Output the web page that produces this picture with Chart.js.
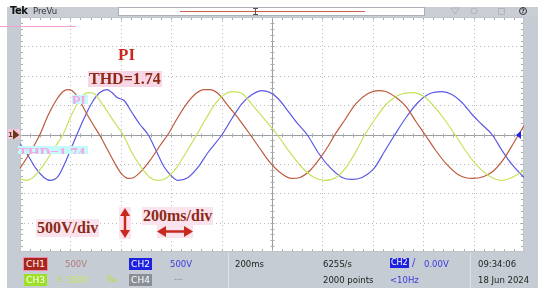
<!DOCTYPE html>
<html><head><meta charset="utf-8">
<script src="https://cdn.jsdelivr.net/npm/chart.js@4.4.1/dist/chart.umd.min.js"></script>
<style>
html,body{margin:0;padding:0;background:#fff;}
#wrap{position:relative;width:550px;height:296px;overflow:hidden;}
canvas{position:absolute;left:0;top:0;}
.t{position:absolute;white-space:nowrap;line-height:1;}
.ser{font-family:"Liberation Serif",serif;font-weight:bold;}
.san{font-family:"DejaVu Sans",sans-serif;}
.box{position:absolute;color:#fff;font-family:"DejaVu Sans",sans-serif;font-size:9px;line-height:12px;text-align:center;width:23px;height:12px;}
.ghost{position:absolute;overflow:hidden;font-family:"Liberation Serif",serif;font-weight:bold;color:#f4a6e6;background:#c4fafa;line-height:1;white-space:nowrap;}
</style></head><body>
<div id="wrap"><canvas id="c" width="550" height="296"></canvas>
<div class="ghost" style="left:72px;top:95px;width:16px;height:9px;font-size:14px;">PI</div>
<div class="ghost" style="left:18px;top:146px;width:70px;height:8px;font-size:15px;">THD=1.74</div>
<div class="t san" style="left:10px;top:6px;font-size:10px;font-weight:bold;color:#111;letter-spacing:-0.5px">Tek</div>
<div class="t san" style="left:33px;top:7px;font-size:8.5px;color:#333">PreVu</div>
<div class="t ser" style="left:118px;top:46px;font-size:17px;color:#c8281e">PI</div>
<div class="t ser" style="left:88px;top:71px;font-size:16px;color:#8b2a16;background:#f9d6e6;padding:0 1px">THD=1.74</div>
<div class="t ser" style="left:36px;top:219px;font-size:16px;color:#8b2a16;background:#fbe3ee;padding:1px 1px">500V/div</div>
<div class="t ser" style="left:142px;top:207px;font-size:16px;color:#8b2a16;background:#fbe3ee;padding:1px 1px">200ms/div</div>
<div class="box" style="left:24px;top:258px;background:#a8261a;outline:1px solid #f28ab0">CH1</div>
<div class="t san" style="left:65px;top:260px;font-size:8.5px;color:#b07a7a">500V</div>
<div class="box" style="left:129px;top:258px;background:#1e22e0">CH2</div>
<div class="t san" style="left:170px;top:260px;font-size:8.5px;color:#3a3ae0">500V</div>
<div class="box" style="left:24px;top:274px;background:#9ee026">CH3</div>
<div class="t san" style="left:56px;top:276px;font-size:8px;color:#b8e040">±</div>
<div class="t san" style="left:66px;top:276px;font-size:8.5px;color:#c8e860">500V</div>
<div class="t san" style="left:106px;top:276px;font-size:8px;color:#b8e040">‰</div>
<div class="box" style="left:129px;top:274px;background:#8a8f96">CH4</div>
<div class="t san" style="left:174px;top:276px;font-size:8px;color:#8a8f96">---</div>
<div class="t san" style="left:235px;top:260px;font-size:8.5px;color:#222">200ms</div>
<div class="t san" style="left:323px;top:260px;font-size:8.5px;color:#222">625S/s</div>
<div class="t san" style="left:323px;top:276px;font-size:8.5px;color:#222">2000 points</div>
<div class="t san" style="left:390px;top:258px;font-size:8px;line-height:10px;color:#fff;background:#1e22e0;padding:0 1px">CH2</div>
<div class="t san" style="left:412px;top:258px;font-size:10px;color:#3a3ae0">/</div>
<div class="t san" style="left:424px;top:260px;font-size:8.5px;color:#3a3ae0">0.00V</div>
<div class="t san" style="left:390px;top:276px;font-size:8.5px;color:#3a3ae0">&lt;10Hz</div>
<div class="t san" style="left:478px;top:260px;font-size:8.5px;color:#222">09:34:06</div>
<div class="t san" style="left:478px;top:276px;font-size:8.5px;color:#222">18 Jun 2024</div>
</div>
<script>
// Time axis in ms (200 ms/div, 10 div), voltage in V (500 V/div, 8 div)
const timeDivisions = 10, msPerDiv = 200;
const voltDivisions = 8, vPerDiv = 500;

// CH1 (red) samples: time (ms), voltage (V)
const ch1Time = [0,40,79,111,143,171,190,206,230,262,290,317,349,381,405,429,452,484,516,556,587,619,659,698,730,754,786,825,873,913,952,992,1032,1079,1111,1151,1190,1222,1250,1290,1333,1381,1421,1452,1492,1532,1571,1607,1647,1690,1738,1794,1841,1881,1921,1960,2000];
const ch1Volt = [-578,-306,0,323,578,731,765,748,629,374,170,-17,-272,-527,-680,-748,-731,-612,-442,-187,0,238,510,697,765,765,697,493,238,0,-238,-476,-646,-748,-731,-612,-408,-204,0,255,527,697,748,731,629,476,221,0,-255,-493,-680,-748,-714,-612,-408,-136,153];
// CH3 (yellow-green) samples
const ch3Time = [0,24,56,95,135,171,198,230,254,270,294,317,349,381,409,444,484,516,544,579,619,659,702,738,778,817,845,881,921,968,1020,1071,1119,1167,1210,1254,1294,1333,1369,1413,1460,1508,1559,1603,1651,1690,1726,1770,1817,1865,1913,1952,2000];
const ch3Volt = [-748,-782,-714,-510,-238,0,272,544,680,714,697,578,374,170,0,-306,-578,-731,-782,-748,-578,-306,0,272,544,697,731,697,510,272,0,-306,-561,-731,-782,-731,-561,-289,0,289,544,680,714,646,442,221,0,-289,-544,-714,-782,-731,-612];
// CH2 (blue) samples
const ch2Time = [0,32,63,95,119,151,183,206,226,254,286,317,345,365,385,413,444,476,508,540,571,603,627,667,706,746,802,841,881,921,960,992,1024,1056,1095,1139,1183,1230,1278,1317,1357,1405,1444,1488,1532,1579,1627,1675,1714,1754,1794,1833,1873,1913,1952,2000];
const ch2Volt = [-153,-357,-578,-731,-782,-714,-442,-204,0,272,544,714,765,714,629,578,374,170,0,-272,-544,-714,-782,-731,-561,-306,0,272,527,680,748,714,612,442,221,0,-306,-561,-731,-765,-731,-578,-306,0,289,544,697,731,680,544,340,170,0,-272,-510,-731];

function pts(t,v){return t.map((x,i)=>({x:x,y:v[i]}));}

const L=20,R=524,T=17,B=252;
const scopePlugin={
  id:'scope',
  beforeDraw(ch){
    const c=ch.ctx;
    c.save();
    c.fillStyle='#fff';c.fillRect(0,0,550,296);
    c.fillStyle='#c6ccd3';c.fillRect(7,7,531,281);
    c.fillStyle='#c9ced4';c.fillRect(7,7,531,10);
    c.fillStyle='#fff';c.fillRect(L,T,R-L,B-T);
    c.fillStyle='#fff';c.fillRect(118,7,307,9);
    c.strokeStyle='#aab0b6';c.lineWidth=1;c.strokeRect(118.5,7.5,306,8);
    c.strokeStyle='#d06050';c.beginPath();c.moveTo(180,11.5);c.lineTo(365,11.5);c.stroke();
    c.strokeStyle='#555';c.beginPath();c.moveTo(255.5,8);c.lineTo(255.5,15);c.moveTo(253,8.5);c.lineTo(258,8.5);c.moveTo(253,14.5);c.lineTo(258,14.5);c.stroke();
    c.strokeStyle='#b0b6bc';c.lineWidth=1;
    c.strokeRect(498.5,8.5,6,6);
    c.beginPath();c.moveTo(451,8);c.lineTo(459,8);c.lineTo(455,14);c.closePath();c.stroke();
    c.beginPath();c.arc(474,11,3,0,Math.PI*2);c.stroke();
    c.strokeStyle='#333';c.beginPath();c.arc(523,11,3.5,0,Math.PI*2);c.stroke();
    c.fillStyle='#333';c.font='bold 6px DejaVu Sans';c.textAlign='center';c.textBaseline='middle';c.fillText('?',523,11.5);
    c.fillStyle='#dde1e6';c.fillRect(228,253,1,35);c.fillRect(470,253,1,35);
    c.strokeStyle='#f0a0d0';c.beginPath();c.moveTo(0,26.5);c.lineTo(76,26.5);c.stroke();
    c.restore();
  },
  beforeDatasetsDraw(ch){
    const c=ch.ctx,xs=ch.scales.x,ys=ch.scales.y;
    c.save();
    c.lineWidth=1;
    c.strokeStyle='#b8bcc0';c.setLineDash([1,3]);
    for(let i=1;i<timeDivisions;i++){
      if(i===timeDivisions/2)continue;
      const x=Math.round(xs.getPixelForValue(i*msPerDiv))+0.5;
      c.beginPath();c.moveTo(x,T);c.lineTo(x,B);c.stroke();
    }
    for(let j=1;j<voltDivisions;j++){
      if(j===voltDivisions/2)continue;
      const y=Math.round(ys.getPixelForValue(-2000+j*vPerDiv))+0.5;
      c.beginPath();c.moveTo(L,y);c.lineTo(R,y);c.stroke();
    }
    c.setLineDash([]);
    const cx=Math.round(xs.getPixelForValue(1000))+0.5, cy=Math.round(ys.getPixelForValue(0))+0.5;
    c.strokeStyle='#9a9ea2';
    c.beginPath();c.moveTo(cx,T);c.lineTo(cx,B);c.moveTo(L,cy);c.lineTo(R,cy);c.stroke();
    c.strokeStyle='#a8acb0';
    c.beginPath();
    for(let k=1;k<timeDivisions*5;k++){
      const x=Math.round(xs.getPixelForValue(k*msPerDiv/5))+0.5;
      c.moveTo(x,cy-2);c.lineTo(x,cy+2);
      c.moveTo(x,T);c.lineTo(x,T+3);c.moveTo(x,B-3);c.lineTo(x,B);
    }
    for(let k=1;k<voltDivisions*5;k++){
      const y=Math.round(ys.getPixelForValue(-2000+k*vPerDiv/5))+0.5;
      c.moveTo(cx-2,y);c.lineTo(cx+2,y);
      c.moveTo(L,y);c.lineTo(L+3,y);c.moveTo(R-3,y);c.lineTo(R,y);
    }
    c.stroke();
    c.strokeStyle='#c0c4c8';c.strokeRect(L+0.5,T+0.5,R-L-1,B-T-1);
    c.restore();
  },
  afterDatasetsDraw(ch){
    const c=ch.ctx,ys=ch.scales.y;
    const cy=ys.getPixelForValue(0);
    c.save();
    c.fillStyle='#f7c8dc';c.fillRect(8,129,12,10);
    c.fillStyle='#6b3a1a';
    c.beginPath();c.moveTo(13,129.5);c.lineTo(19.5,cy+0.5);c.lineTo(13,139.5);c.closePath();c.fill();
    c.font='bold 7px DejaVu Sans';c.textAlign='left';c.textBaseline='middle';c.fillText('1',8,cy+1);
    c.fillStyle='#2222e0';
    c.beginPath();c.moveTo(516,cy+0.5);c.lineTo(521,cy-3.5);c.lineTo(521,cy+4.5);c.closePath();c.fill();
    const ar='#c8281e';
    c.fillStyle='#fbe3ee';c.fillRect(119,207,12,32);
    c.fillStyle=ar;c.strokeStyle=ar;c.lineWidth=2.5;
    c.beginPath();c.moveTo(125,214);c.lineTo(125,232);c.stroke();
    c.beginPath();c.moveTo(120,216);c.lineTo(125,208);c.lineTo(130,216);c.closePath();c.fill();
    c.beginPath();c.moveTo(120,230);c.lineTo(125,238);c.lineTo(130,230);c.closePath();c.fill();
    c.fillStyle='#fbe3ee';c.fillRect(157,225,36,13);
    c.fillStyle=ar;
    c.beginPath();c.moveTo(163,231.5);c.lineTo(187,231.5);c.stroke();
    c.beginPath();c.moveTo(166,226);c.lineTo(157,231.5);c.lineTo(166,237);c.closePath();c.fill();
    c.beginPath();c.moveTo(184,226);c.lineTo(193,231.5);c.lineTo(184,237);c.closePath();c.fill();
    c.restore();
  }
};

const ds=(d,col)=>({data:d,borderColor:col,borderWidth:1.2,pointRadius:0,fill:false,cubicInterpolationMode:'monotone'});
new Chart(document.getElementById('c'),{
  type:'line',
  data:{datasets:[
    ds(pts(ch3Time,ch3Volt),'#c4e25a'),
    ds(pts(ch1Time,ch1Volt),'#bd5a3e'),
    ds(pts(ch2Time,ch2Volt),'#5a58e4')
  ]},
  options:{
    responsive:false,animation:false,
    layout:{padding:{left:L,right:550-R,top:T,bottom:296-B}},
    plugins:{legend:{display:false},tooltip:{enabled:false}},
    scales:{
      x:{type:'linear',min:0,max:timeDivisions*msPerDiv,display:false},
      y:{type:'linear',min:-voltDivisions/2*vPerDiv,max:voltDivisions/2*vPerDiv,display:false}
    }
  },
  plugins:[scopePlugin]
});
</script>
</body></html>
